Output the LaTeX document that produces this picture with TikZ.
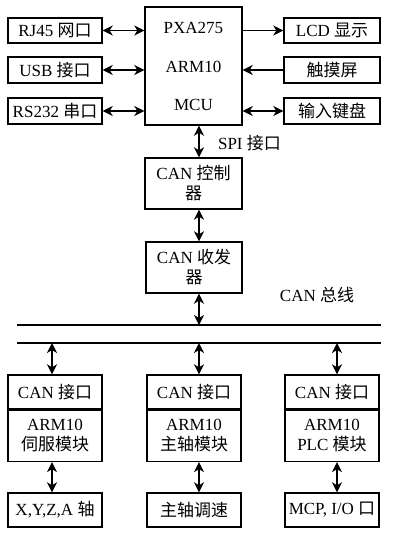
\documentclass[tikz,border=0pt]{standalone}
\usepackage{fontspec}
\setmainfont{Liberation Serif}
\newfontfamily\cjk{Noto Sans CJK SC}
\newcommand\zh[1]{{\cjk #1}}
\usetikzlibrary{arrows.meta}
\begin{document}
\begin{tikzpicture}[x=1pt,y=-1pt,
  box/.style={draw,line width=1.4pt,inner sep=0pt,align=center,font=\fontsize{17}{21}\selectfont},
  lbl/.style={inner sep=0pt,font=\fontsize{17}{21}\selectfont},
  conn/.style={line width=1.6pt,{Stealth[length=10pt,width=10pt,inset=3pt]}-{Stealth[length=10pt,width=10pt,inset=3pt]}},
  conr/.style={line width=1.6pt,-{Stealth[length=10pt,width=10pt,inset=3pt]}},
  bus/.style={line width=1.4pt}]
\useasboundingbox (0,0) rectangle (410,536);
% MCU
\node[box,minimum width=97pt,minimum height=118pt] (mcu) at (193.5,66) {};
\node[lbl] (mcua) at (193.5,28) {PXA275};
\node[lbl] (mcub) at (193.5,67) {ARM10};
\node[lbl] (mcuc) at (193.5,105) {MCU};
% left
\node[box,minimum width=94pt,minimum height=25pt] (rj) at (55,30.5) {RJ45 \zh{网口}};
\node[box,minimum width=94pt,minimum height=26pt] (usb) at (55,70) {USB \zh{接口}};
\node[box,minimum width=94pt,minimum height=26pt] (rs) at (55,111) {RS232 \zh{串口}};
% right
\node[box,minimum width=96pt,minimum height=25pt] (lcd) at (332,30.5) {LCD \zh{显示}};
\node[box,minimum width=96pt,minimum height=26pt] (tp) at (332,70) {\zh{触摸屏}};
\node[box,minimum width=96pt,minimum height=26pt] (kb) at (332,111) {\zh{输入键盘}};
\draw[conn] (rj.east) -- (rj.east -| mcu.west);
\draw[conn] (usb.east) -- (usb.east -| mcu.west);
\draw[conn] (rs.east) -- (rs.east -| mcu.west);
\draw[conr] (lcd.west -| mcu.east) -- (lcd.west);
\draw[conr] (tp.west) -- (tp.west -| mcu.east);
\draw[conn] (kb.west) -- (kb.west -| mcu.east);
% CAN chain
\node[box,minimum width=97pt,minimum height=51pt] (ctl) at (193.5,183.5) {CAN \zh{控制}\\[-1pt]\zh{器}};
\node[box,minimum width=96pt,minimum height=51pt] (trx) at (194,267.5) {CAN \zh{收发}\\[-1pt]\zh{器}};
\node[lbl] (spi) at (249.5,143) {SPI \zh{接口}};
\node[lbl] (canbus) at (317,295) {CAN \zh{总线}};
\coordinate (sx) at (199,0);
\draw[conn] (mcu.south -| sx) -- (ctl.north -| sx);
\draw[conn] (ctl.south -| sx) -- (trx.north -| sx);
% bus
\coordinate (b1l) at (17,325);
\coordinate (b1r) at (381,325);
\coordinate (b2l) at (17,343);
\coordinate (b2r) at (381,343);
\draw[bus] (b1l) -- (b1r);
\draw[bus] (b2l) -- (b2r);
\draw[conn] (trx.south -| sx) -- (b1l -| sx);
% modules
\foreach \n/\cx/\ax/\t/\b in {m1/55/52/{\zh{伺服模块}}/{X,Y,Z,A \zh{轴}},
                              m2/194/199/{\zh{主轴模块}}/{\zh{主轴调速}},
                              m3/332/337/{PLC \zh{模块}}/{MCP, I/O \zh{口}}}{
  \node[box,minimum width=94pt,minimum height=34pt] (\n t) at (\cx,392) {CAN \zh{接口}};
  \node[box,minimum width=94pt,minimum height=51pt,anchor=north] (\n m) at (\n t.south) {ARM10\\[-1pt]\t};
  \node[box,minimum width=94pt,minimum height=34pt] (\n b) at (\cx,510) {\b};
  \coordinate (\n x) at (\ax,0);
  \draw[conn] (b2l -| \n x) -- (\n t.north -| \n x);
  \draw[conn] (\n m.south -| \n x) -- (\n b.north -| \n x);
}
\end{tikzpicture}
\end{document}
